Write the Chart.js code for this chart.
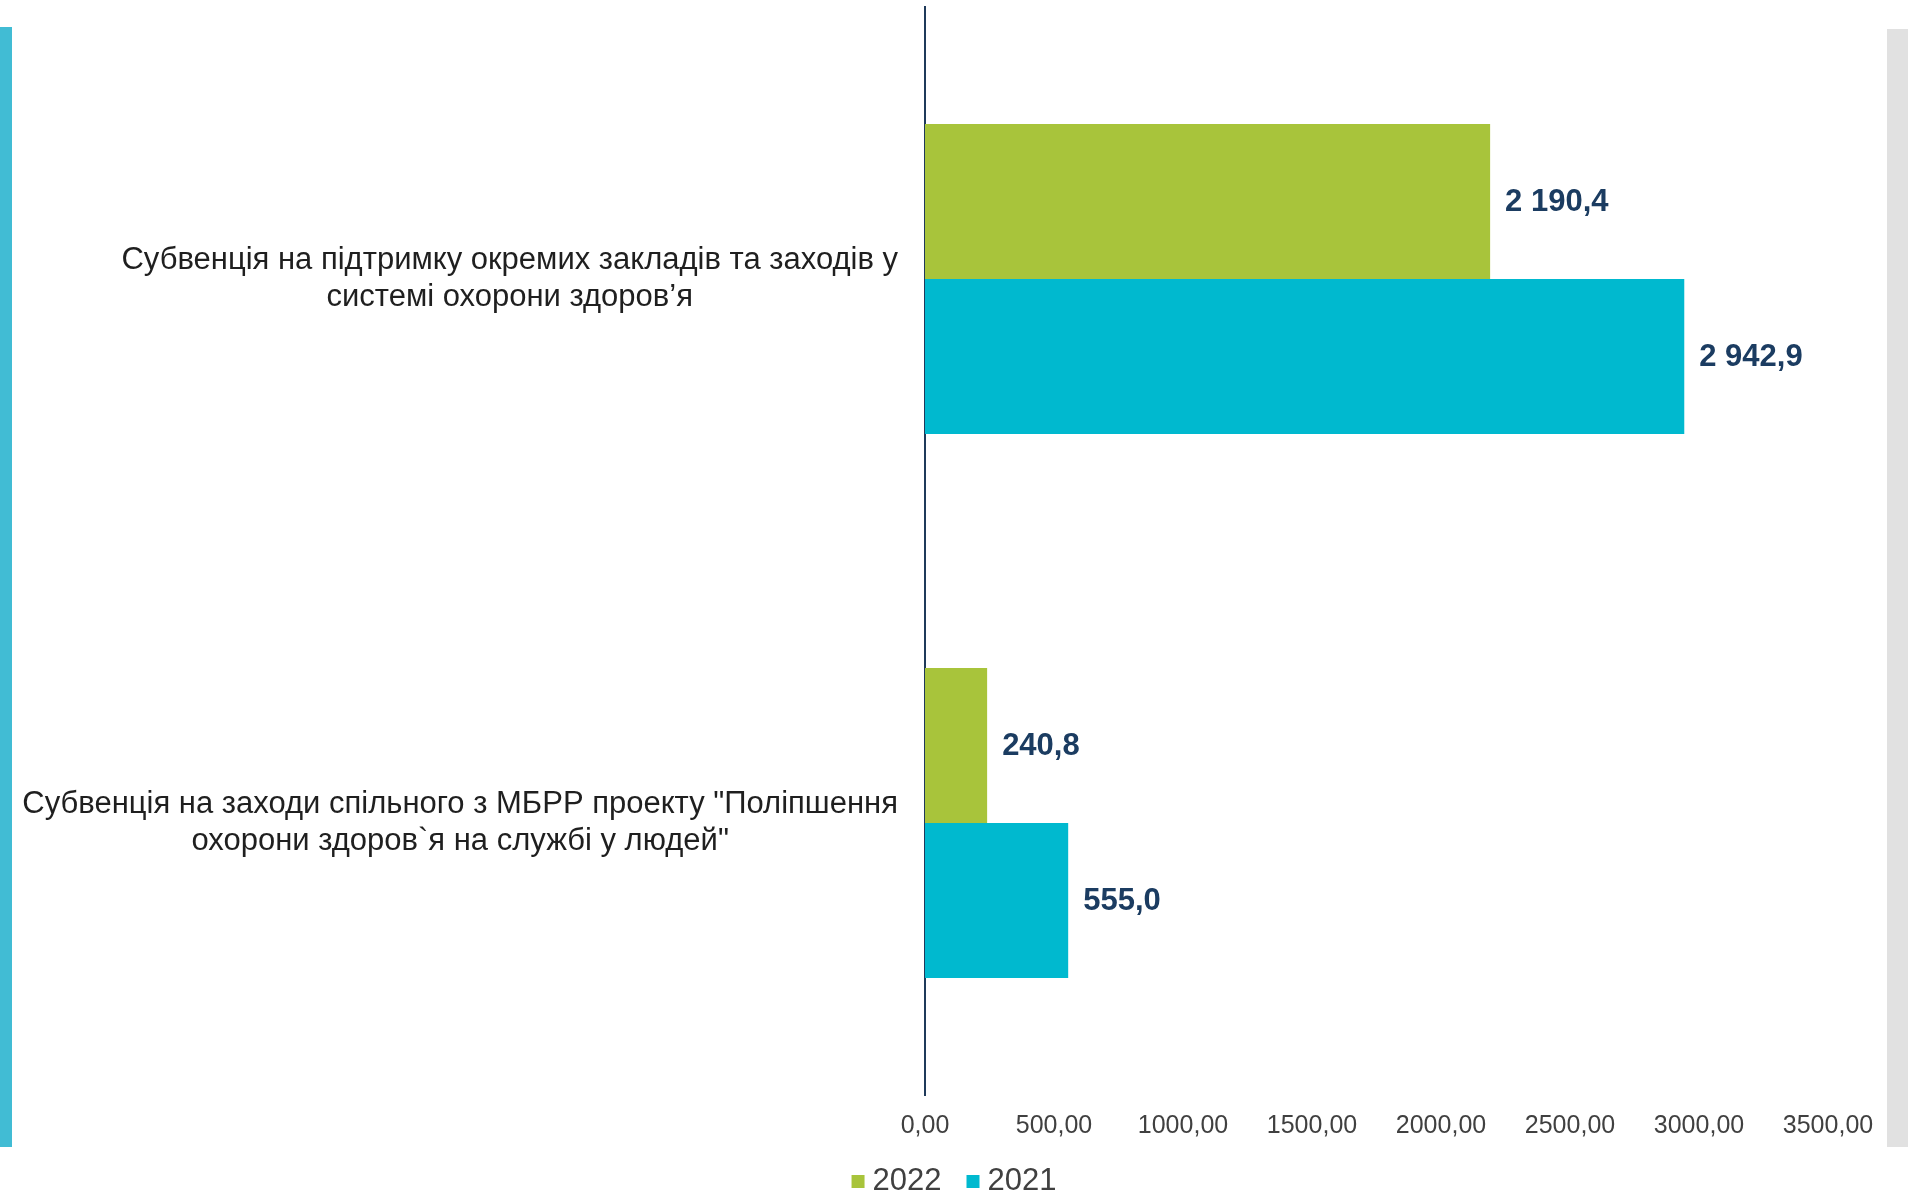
<!DOCTYPE html>
<html>
<head>
<meta charset="utf-8">
<script src="https://cdn.jsdelivr.net/npm/chart.js@4/dist/chart.umd.min.js"></script>
<style>
  html, body { margin: 0; padding: 0; background: #fff; }
  #wrap { position: relative; width: 1908px; height: 1195px; }
  .strip { position: absolute; }
  #leftStrip { left: 0; top: 27px; width: 12px; height: 1120px; background: #41bcd4; }
  #rightStrip { left: 1887px; top: 29px; width: 21px; height: 1118px; background: #e1e1e1; }
  canvas { position: absolute; left: 0; top: 0; }
</style>
</head>
<body>
<div id="wrap">
  <div class="strip" id="leftStrip"></div>
  <div class="strip" id="rightStrip"></div>
  <canvas id="chart" width="1908" height="1195"></canvas>
</div>
<script>
// категорії (кожна — масив рядків підпису)
const categories = [
  ["Субвенція на підтримку окремих закладів та заходів у", "системі охорони здоров’я"],
  ["Субвенція на заходи спільного з МБРР проекту \"Поліпшення", "охорони здоров`я на службі у людей\""]
];
const seriesNames = ["2022", "2021"];
const values2022 = [2190.4, 240.8];
const values2021 = [2942.9, 555.0];
const xTicks = [0, 500, 1000, 1500, 2000, 2500, 3000, 3500];

const COLORS = ["#a8c43b", "#00b9cf"];
const FONT = "Arial, 'Liberation Sans', sans-serif";

// 2190.4 -> "2 190,4"
function fmtValue(v) {
  const parts = v.toFixed(1).split(".");
  parts[0] = parts[0].replace(/\B(?=(\d{3})+(?!\d))/g, " ");
  return parts.join(",");
}

// підписи категорій — кожен блок вирівняний по центру, блоки праворуч
const categoryLabels = {
  id: "categoryLabels",
  afterDraw(chart) {
    const ctx = chart.ctx;
    const yScale = chart.scales.y;
    const rightEdge = chart.chartArea.left - 27;
    const lineH = 36.5;
    ctx.save();
    ctx.font = "31px " + FONT;
    ctx.fillStyle = "#1f1f1f";
    ctx.textAlign = "center";
    ctx.textBaseline = "middle";
    categories.forEach((lines, i) => {
      const yc = yScale.getPixelForValue(i);
      const widest = Math.max(...lines.map(l => ctx.measureText(l).width));
      const xc = rightEdge - widest / 2;
      const y0 = yc - (lines.length - 1) * lineH / 2;
      lines.forEach((l, j) => ctx.fillText(l, xc, y0 + j * lineH));
    });
    ctx.restore();
  }
};

// значення біля кінця стовпчиків
const valueLabels = {
  id: "valueLabels",
  afterDatasetsDraw(chart) {
    const ctx = chart.ctx;
    ctx.save();
    ctx.font = "bold 31px " + FONT;
    ctx.fillStyle = "#1b3c61";
    ctx.textAlign = "left";
    ctx.textBaseline = "middle";
    chart.data.datasets.forEach((ds, di) => {
      chart.getDatasetMeta(di).data.forEach((bar, i) => {
        ctx.fillText(fmtValue(ds.data[i]), bar.x + 15, bar.y + 1);
      });
    });
    ctx.restore();
  }
};

// легенда внизу
const bottomLegend = {
  id: "bottomLegend",
  afterDraw(chart) {
    const ctx = chart.ctx;
    ctx.save();
    ctx.font = "31px " + FONT;
    ctx.textBaseline = "middle";
    ctx.textAlign = "left";
    const box = 13, gap = 8, itemGap = 25;
    const widths = chart.data.datasets.map(ds => box + gap + ctx.measureText(ds.label).width);
    const total = widths.reduce((a, b) => a + b, 0) + itemGap * (widths.length - 1);
    let x = chart.width / 2 - total / 2;
    const y = 1181;
    chart.data.datasets.forEach((ds, i) => {
      ctx.fillStyle = ds.backgroundColor;
      ctx.fillRect(x, y - 6, box, box);
      ctx.fillStyle = "#404040";
      ctx.fillText(ds.label, x + box + gap, y);
      x += widths[i] + itemGap;
    });
    ctx.restore();
  }
};

new Chart(document.getElementById("chart"), {
  type: "bar",
  data: {
    labels: categories.map(c => c.join(" ")),
    datasets: [
      { label: seriesNames[0], data: values2022, backgroundColor: COLORS[0] },
      { label: seriesNames[1], data: values2021, backgroundColor: COLORS[1] }
    ]
  },
  options: {
    indexAxis: "y",
    responsive: false,
    animation: false,
    layout: { padding: { top: 7, right: 80, bottom: 0, left: 0 } },
    datasets: { bar: { categoryPercentage: 0.57, barPercentage: 1.0 } },
    scales: {
      x: {
        min: 0,
        max: 3500,
        afterBuildTicks: s => { s.ticks = xTicks.map(v => ({ value: v })); },
        afterFit: s => { s.height = 100; },
        grid: { display: false, drawTicks: false },
        border: { display: false },
        ticks: {
          padding: 16,
          color: "#404040",
          font: { family: FONT, size: 25 },
          maxRotation: 0,
          callback: v => Number(v).toFixed(2).replace(".", ",")
        }
      },
      y: {
        afterFit: s => { s.width = 925; },
        grid: { display: false, drawTicks: false },
        border: { display: true, color: "#1f3a5a", width: 2 },
        ticks: { display: false }
      }
    },
    plugins: {
      legend: { display: false },
      tooltip: { enabled: false }
    }
  },
  plugins: [categoryLabels, valueLabels, bottomLegend]
});
</script>
</body>
</html>
